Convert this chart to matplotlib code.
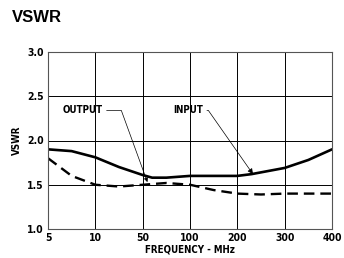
import numpy as np
import matplotlib
matplotlib.use("Agg")
import matplotlib.pyplot as plt

# data (x axis is evenly spaced categories)
freq_labels = ["5", "10", "50", "100", "200", "300", "400"]
pos = [0, 0.5, 1, 1.5, 2, 2.2, 2.5, 3, 3.5, 4, 4.3, 5, 5.5, 6]
vswr_input = [1.90, 1.88, 1.81, 1.70, 1.61, 1.58, 1.58, 1.60, 1.60, 1.60, 1.62, 1.69, 1.78, 1.90]
pos_out = [0, 0.5, 1, 1.5, 2, 2.5, 3, 3.5, 4, 4.5, 5, 5.5, 6]
vswr_output = [1.80, 1.60, 1.50, 1.48, 1.50, 1.52, 1.50, 1.44, 1.40, 1.39, 1.40, 1.40, 1.40]

FONT = ["DejaVu Sans"]
TXT = dict(family=FONT, fontweight="bold", fontstretch="condensed")

fig = plt.figure(figsize=(3.44, 2.58), dpi=100)
ax = fig.add_axes([48 / 344, 1 - 229 / 258, 284 / 344, 177 / 258])

ax.plot(pos, vswr_input, color="black", lw=1.9, solid_capstyle="round")
ax.plot(pos_out, vswr_output, color="black", lw=1.7, linestyle=(0, (4.5, 2.5)))

ax.set_xlim(0, 6)
ax.set_ylim(1.0, 3.0)
ax.set_xticks(range(len(freq_labels)))
ax.set_xticklabels(freq_labels)
ax.set_yticks([1.0, 1.5, 2.0, 2.5, 3.0])
ax.set_yticklabels(["1.0", "1.5", "2.0", "2.5", "3.0"])
ax.grid(True, color="black", lw=0.7)
ax.tick_params(length=0, pad=3)
for lbl in ax.get_xticklabels() + ax.get_yticklabels():
    lbl.set_family(FONT)
    lbl.set_fontweight("bold")
    lbl.set_fontstretch("condensed")
    lbl.set_fontsize(7.5)
for s in ax.spines.values():
    s.set_color("#555555")
    s.set_linewidth(0.8)

ax.set_xlabel("FREQUENCY - MHz", fontsize=7, labelpad=1, **TXT)
ax.set_ylabel("VSWR", fontsize=7, labelpad=4, **TXT)

# annotations with leader lines
ax.annotate("OUTPUT", xy=(2.1, 1.53), xytext=(1.15, 2.34), fontsize=7,
            ha="right", va="center", **TXT,
            arrowprops=dict(arrowstyle="-|>", color="black", lw=0.5,
                            connectionstyle="angle,angleA=0,angleB=110,rad=0",
                            shrinkA=1, shrinkB=0, mutation_scale=6))
ax.annotate("INPUT", xy=(4.33, 1.62), xytext=(3.27, 2.34), fontsize=7,
            ha="right", va="center", **TXT,
            arrowprops=dict(arrowstyle="-|>", color="black", lw=0.5,
                            connectionstyle="angle,angleA=0,angleB=125,rad=0",
                            shrinkA=1, shrinkB=0, mutation_scale=8))

fig.text(12 / 344, 1 - 18 / 258, "VSWR", family=["Liberation Sans", "DejaVu Sans"],
         fontweight="bold", fontsize=12, va="center", ha="left")

fig.savefig("out.png", dpi=100)
